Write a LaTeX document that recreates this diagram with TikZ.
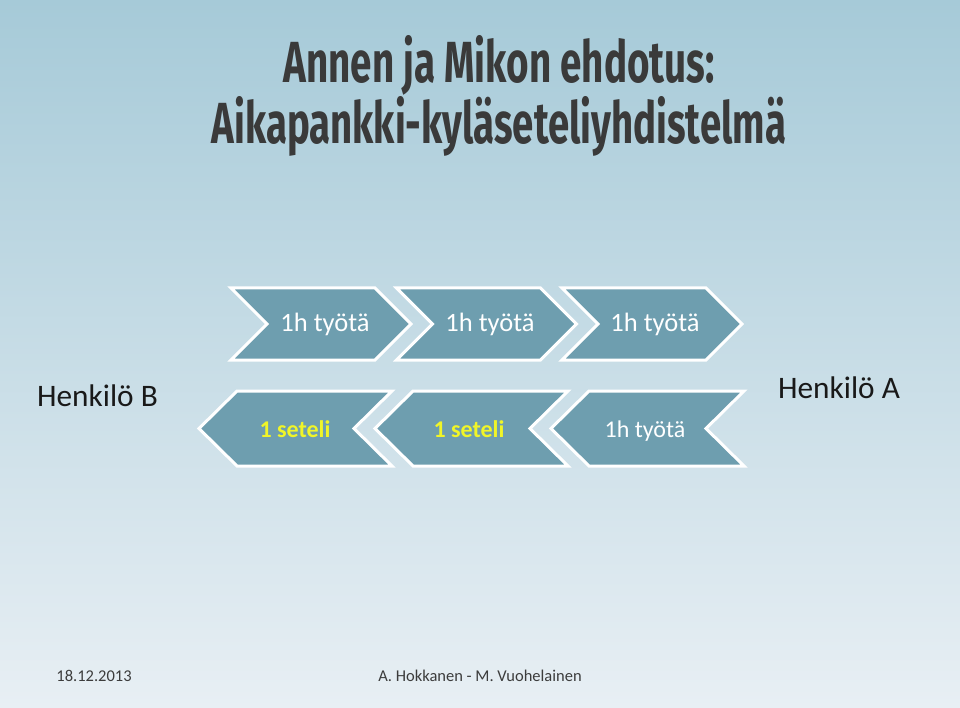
\documentclass[tikz,border=0pt]{standalone}
\usepackage{fontspec}
\setmainfont{Carlito}
\newfontfamily\titlefont{Fira Sans}
\usetikzlibrary{shadings}
\definecolor{chev}{RGB}{110,158,175}
\definecolor{titlegray}{RGB}{58,58,58}
\definecolor{bgtop}{RGB}{166,202,216}
\definecolor{bgmid}{RGB}{203,221,229}
\definecolor{bgbot}{RGB}{232,239,244}
\definecolor{footgray}{RGB}{60,60,60}
\definecolor{setelicol}{RGB}{240,245,40}
\begin{document}
\begin{tikzpicture}[x=1pt,y=-1pt,
  chevbox/.style={fill=chev, draw=white, line width=3pt, line join=miter},
  toplabel/.style={anchor=base, text=white, font=\fontsize{26.5}{29}\selectfont, inner sep=0pt},
  botlabel/.style={anchor=base, text=white, font=\fontsize{24}{26}\selectfont, inner sep=0pt},
  setelilabel/.style={anchor=base, text=setelicol, font=\bfseries\fontsize{24}{27}\selectfont, inner sep=0pt},
  person/.style={anchor=base, text=black!90, font=\fontsize{31.3}{34}\selectfont, inner sep=0pt},
  footer/.style={anchor=base, text=footgray, font=\fontsize{16.5}{19}\selectfont, inner sep=0pt},
  titleline/.style={anchor=base, text=titlegray, inner sep=0pt}]
\useasboundingbox (0,0) rectangle (960,708);
\shade[top color=bgtop, middle color=bgmid, bottom color=bgbot] (0,0) rectangle (960,708);
% title
\node[titleline] (title1) at (499,83) {\resizebox{431pt}{\height}{\titlefont\bfseries\fontsize{58}{60}\selectfont Annen ja Mikon ehdotus:}};
\node[titleline] (title2) at (499,144) {\resizebox{574pt}{\height}{\titlefont\bfseries\fontsize{58}{60}\selectfont Aikapankki-kyläseteliyhdistelmä}};
% top row chevrons (pointing right)
\foreach \x in {231,396.5,562} {
  \draw[chevbox] (\x,288) -- ++(144,0) -- ++(36,36) -- ++(-36,36) -- ++(-144,0) -- ++(36,-36) -- cycle;
}
% bottom row chevrons (pointing left)
\foreach \x in {199,375,551} {
  \draw[chevbox] (\x,428.5) -- ++(38,-37.5) -- ++(155,0) -- ++(-38,37.5) -- ++(38,37.5) -- ++(-155,0) -- cycle;
}
\node[toplabel] (w1) at (325,331) {1h työtä};
\node[toplabel] (w2) at (490,331) {1h työtä};
\node[toplabel] (w3) at (655,331) {1h työtä};
\node[setelilabel] (s1) at (295,437) {1 seteli};
\node[setelilabel] (s2) at (469,437) {1 seteli};
\node[botlabel] (w4) at (645,437) {1h työtä};
\node[person] (pB) at (97.5,406) {Henkilö B};
\node[person] (pA) at (839,398) {Henkilö A};
\node[footer] (date) at (94,681) {18.12.2013};
\node[footer] (auth) at (480,681) {A. Hokkanen - M. Vuohelainen};
\end{tikzpicture}
\end{document}
